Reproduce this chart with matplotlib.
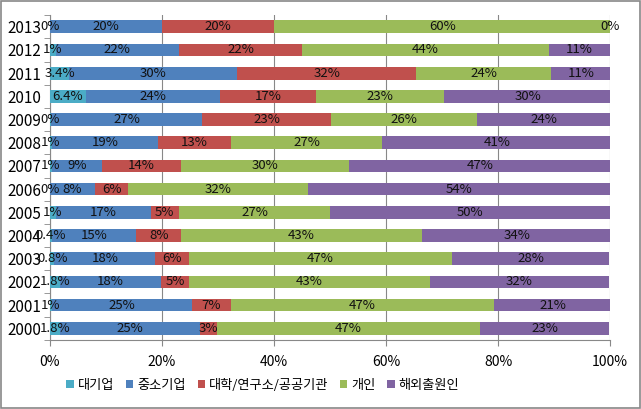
import matplotlib
matplotlib.use("Agg")
import matplotlib.pyplot as plt
import numpy as np

plt.rcParams['font.family'] = ['Noto Sans CJK KR', 'DejaVu Sans']

# Data ------------------------------
years = ["2000", "2001", "2002", "2003", "2004", "2005", "2006",
         "2007", "2008", "2009", "2010", "2011", "2012", "2013"]
series_names = ["대기업", "중소기업", "대학/연구소/공공기관", "개인", "해외출원인"]

large = [1.8, 0.3, 1.8, 0.8, 0.4, 1.0, 0.0, 0.3, 0.3, 0.2, 6.4, 3.4, 1.0, 0.0]
large_labels = ["1.8%", "1%", "1.8%", "0.8%", "0.4%", "1%", "0%",
                "1%", "1%", "0%", "6.4%", "3.4%", "1%", "0%"]
sme = [25, 25, 18, 18, 15, 17, 8, 9, 19, 27, 24, 30, 22, 20]
univ = [3, 7, 5, 6, 8, 5, 6, 14, 13, 23, 17, 32, 22, 20]
person = [47, 47, 43, 47, 43, 27, 32, 30, 27, 26, 23, 24, 44, 60]
foreign = [23, 21, 32, 28, 34, 50, 54, 47, 41, 24, 30, 11, 11, 0]

colors = ["#4BACC6", "#4F81BD", "#C0504D", "#9BBB59", "#8064A2"]

# Plot ------------------------------
fig = plt.figure(figsize=(6.41, 4.09), dpi=100)
ax = fig.add_axes([0.078, 0.169, 0.874, 0.794])

y = np.arange(len(years))
all_series = [large, sme, univ, person, foreign]
left = np.zeros(len(years))
for i, (vals, name) in enumerate(zip(all_series, series_names)):
    vals = np.array(vals, dtype=float)
    ax.barh(y, vals, left=left, height=0.55, color=colors[i], label=name, zorder=3)
    for j, v in enumerate(vals):
        txt = large_labels[j] if i == 0 else f"{v:g}%"
        ax.text(left[j] + v / 2, y[j], txt, ha="center", va="center",
                fontsize=9.5, color="#111111", zorder=4)
    left += vals

ax.set_xlim(0, 100)
ax.set_ylim(-0.5, len(years) - 0.5)
ax.set_xticks(np.arange(0, 101, 20))
ax.set_xticklabels([f"{t}%" for t in range(0, 101, 20)], fontsize=10)
ax.set_yticks(y)
ax.set_yticklabels(years, fontsize=11)
ax.set_yticks(np.arange(-0.5, len(years), 1), minor=True)
ax.tick_params(axis="y", which="major", length=0, pad=6)
ax.tick_params(axis="y", which="minor", length=4, color="#888888")
ax.tick_params(axis="x", length=4, color="#888888", pad=7)
ax.grid(axis="x", color="#888888", linewidth=0.8, zorder=0)
for side in ["top", "right"]:
    ax.spines[side].set_visible(False)
ax.spines["left"].set_color("#888888")
ax.spines["bottom"].set_color("#888888")

# Legend sits left of centre, as in the source
fig.legend(*ax.get_legend_handles_labels(), loc="center", bbox_to_anchor=(0.41, 0.058),
           ncol=5, frameon=False, fontsize=9.5, handlelength=0.55, handleheight=0.55,
           handletextpad=0.3, columnspacing=0.9)

# Outer border
fig.patches.append(plt.Rectangle((0.002, 0.002), 0.996, 0.996, transform=fig.transFigure,
                                 fill=False, edgecolor="#888888", linewidth=1.2))

fig.savefig("out.png", dpi=100)
